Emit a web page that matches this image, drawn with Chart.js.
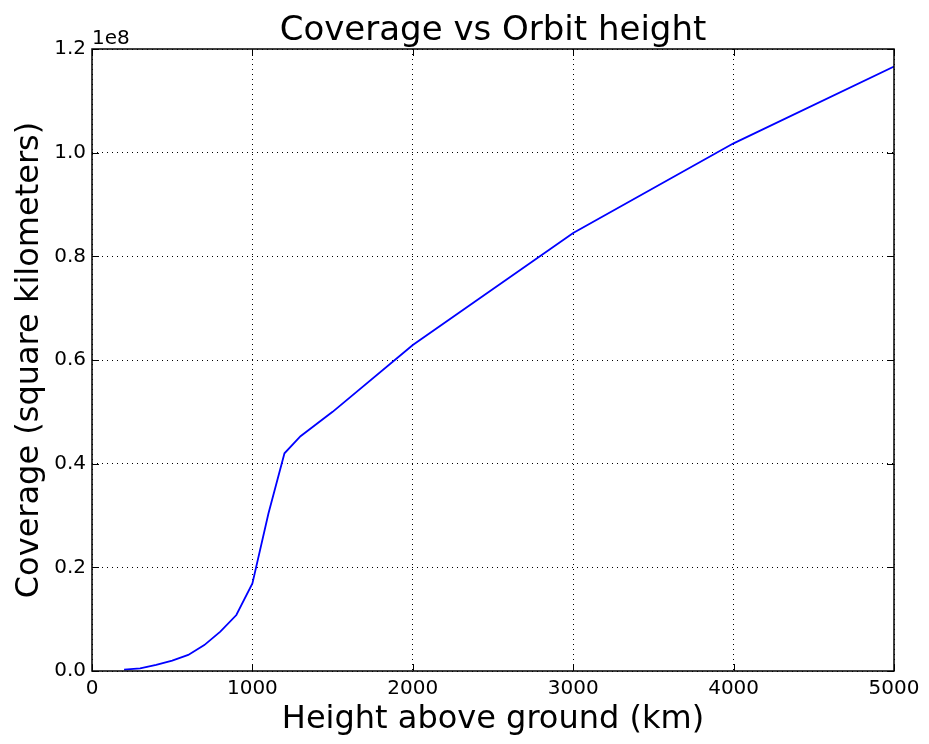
<!DOCTYPE html>
<html>
<head>
<meta charset="utf-8">
<script src="https://cdn.jsdelivr.net/npm/chart.js@4/dist/chart.umd.min.js"></script>
<style>
  body { margin: 0; background: #fff; }
  canvas { display: block; }
</style>
</head>
<body>
<canvas id="chart" width="929" height="744"></canvas>
<script>
// orbit height (km) and visible ground area (km^2)
const heights = [200, 300, 400, 500, 600, 700, 800, 900, 1000, 1100, 1200, 1300, 1500, 2000, 3000, 4000, 5000];
const coverage = [0.25e6, 0.5e6, 1.16e6, 2.0e6, 3.1e6, 5.0e6, 7.6e6, 10.8e6, 16.9e6, 30.4e6, 42.0e6, 45.3e6, 50.0e6, 62.9e6, 84.5e6, 101.8e6, 116.6e6];
const xTicks = [0, 1000, 2000, 3000, 4000, 5000];
const yTicks = [0, 0.2e8, 0.4e8, 0.6e8, 0.8e8, 1.0e8, 1.2e8];

const FONT = "'DejaVu Sans', sans-serif";

// matplotlib style frame: box on all sides, ticks pointing inwards, offset text
const framePlugin = {
  id: "frame",
  afterDatasetsDraw(chart) {
    const { ctx, chartArea: a, scales } = chart;
    const len = 7;
    ctx.save();
    ctx.strokeStyle = "#000";
    ctx.lineWidth = 1;
    ctx.beginPath();
    xTicks.forEach((v) => {
      const x = Math.round(scales.x.getPixelForValue(v)) + 0.5;
      ctx.moveTo(x, a.bottom); ctx.lineTo(x, a.bottom - len);
      ctx.moveTo(x, a.top); ctx.lineTo(x, a.top + len);
    });
    yTicks.forEach((v) => {
      const y = Math.round(scales.y.getPixelForValue(v)) + 0.5;
      ctx.moveTo(a.left, y); ctx.lineTo(a.left + len, y);
      ctx.moveTo(a.right, y); ctx.lineTo(a.right - len, y);
    });
    ctx.stroke();
    ctx.lineWidth = 1.5;
    ctx.strokeRect(a.left, a.top, a.right - a.left, a.bottom - a.top);
    ctx.fillStyle = "#000";
    ctx.font = "20px " + FONT;
    ctx.textAlign = "left";
    ctx.textBaseline = "alphabetic";
    ctx.fillText("1e8", a.left, a.top - 5);
    ctx.restore();
  },
};

new Chart(document.getElementById("chart"), {
  type: "line",
  data: {
    datasets: [{
      data: heights.map((h, i) => ({ x: h, y: coverage[i] })),
      borderColor: "#0000ff",
      borderWidth: 1.8,
      pointRadius: 0,
      tension: 0,
      fill: false,
    }],
  },
  options: {
    responsive: false,
    animation: false,
    layout: { padding: { left: 0, right: 35, top: 0, bottom: 0 } },
    plugins: {
      legend: { display: false },
      tooltip: { enabled: false },
      title: {
        display: true,
        fullSize: false,
        text: "Coverage vs Orbit height",
        color: "#000",
        font: { family: FONT, size: 34, weight: "normal", lineHeight: 1 },
        padding: { top: 14, bottom: 1 },
      },
    },
    scales: {
      x: {
        type: "linear",
        min: 0,
        max: 5000,
        afterBuildTicks: (s) => { s.ticks = xTicks.map((v) => ({ value: v })); },
        afterFit: (s) => { s.height = 73; },
        ticks: {
          color: "#000",
          font: { family: FONT, size: 20 },
          padding: 6,
          maxRotation: 0,
          callback: (v) => String(v),
        },
        grid: { color: "#000", lineWidth: 1, drawTicks: false },
        border: { display: false, dash: [1, 4] },
        title: {
          display: true,
          text: "Height above ground (km)",
          color: "#000",
          font: { family: FONT, size: 32 },
          padding: { top: 0, bottom: 5 },
        },
      },
      y: {
        type: "linear",
        min: 0,
        max: 1.2e8,
        afterBuildTicks: (s) => { s.ticks = yTicks.map((v) => ({ value: v })); },
        afterFit: (s) => { s.width = 92; },
        ticks: {
          color: "#000",
          font: { family: FONT, size: 20 },
          padding: 6,
          callback: (v) => (v / 1e8).toFixed(1),
        },
        grid: { color: "#000", lineWidth: 1, drawTicks: false },
        border: { display: false, dash: [1, 4] },
        title: {
          display: true,
          text: "Coverage (square kilometers)",
          color: "#000",
          font: { family: FONT, size: 32 },
          padding: { top: 10, bottom: 0 },
        },
      },
    },
  },
  plugins: [framePlugin],
});
</script>
</body>
</html>
